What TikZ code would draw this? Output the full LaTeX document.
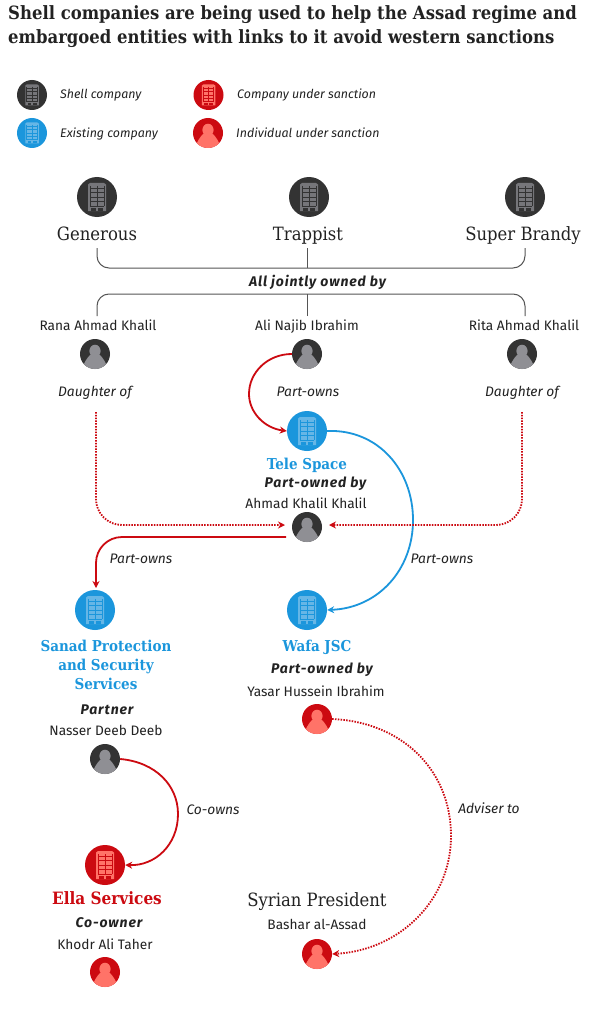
\documentclass[tikz,border=0pt]{standalone}
\usepackage{fontspec}
\setmainfont{Fira Sans}
\newfontfamily\slabfont{DejaVu Serif Condensed}
\usetikzlibrary{arrows.meta,calc}
\definecolor{ink}{HTML}{222222}
\definecolor{coal}{HTML}{333333}
\definecolor{coalhi}{HTML}{76767A}
\definecolor{personhi}{HTML}{8F8F94}
\definecolor{gblue}{HTML}{1B96DC}
\definecolor{gbluehi}{HTML}{66B6E6}
\definecolor{gred}{HTML}{CC0A11}
\definecolor{gredhi}{HTML}{FF7368}
\definecolor{brack}{HTML}{555555}
\tikzset{
  coin/.style={circle,inner sep=0pt,minimum size=#1},
  lab/.style={font=\fontsize{13.7}{15}\selectfont,text=ink,inner sep=0pt,text height=10pt,text depth=0pt},
  ital/.style={font=\fontsize{13.8}{15}\selectfont\itshape,text=ink,inner sep=0pt,text height=10pt,text depth=0pt},
  legt/.style={font=\fontsize{12.4}{14}\selectfont\itshape,text=ink,inner sep=0pt,anchor=west,text height=10pt,text depth=0pt},
  boldit/.style={font=\fontsize{14}{15}\selectfont\bfseries\itshape\addfontfeature{LetterSpace=6.4},text=ink,inner sep=0pt},
  ttl/.style={font=\slabfont\bfseries\fontsize{18.3}{24}\selectfont,text=ink,inner sep=0pt,anchor=west},
  nameb/.style={font=\slabfont\fontsize{18.3}{19}\selectfont,text=ink,inner sep=0pt,align=center,text height=13pt,text depth=0pt},
  bname/.style={font=\slabfont\bfseries\fontsize{15}{19}\selectfont,inner sep=0pt,align=center},
  brk/.style={draw=brack,line width=1pt},
  link/.style={line width=1.8pt,-{Stealth[length=7pt,width=7pt]}},
  dots/.style={line width=1.8pt,dash pattern=on 1.5pt off 1.3pt,-{Stealth[length=7pt,width=7pt]}},
}
% building icon: name, x, y, radius, bg, highlight
\newcommand{\bldg}[6]{%
  \node[coin=#4*2pt,fill=#5] (#1) at (#2,#3) {};
  \begin{scope}[shift={(#2,#3)},x=#4/20*1pt,y=-#4/20*1pt]
    \fill[#6] (-9,14)--(-9,-12.5)--(-7,-14)--(7,-14)--(9,-12.5)--(9,14)--cycle;
    \foreach \yy in {-9,-4.5,0,4.5,9}{\draw[draw=#5,line width=0.9pt] (-7,\yy)--(7,\yy);}
    \draw[draw=#5,line width=0.9pt] (0,-11)--(0,9);
    \draw[draw=#5,line width=0.9pt] (-7,-11)--(-7,9) (7,-11)--(7,9);
    \fill[#5] (-6,14)--(-6,10.5)--(-1,10.5)--(-1,14)--cycle;
    \fill[#5] (1,14)--(1,10.5)--(6,10.5)--(6,14)--cycle;
  \end{scope}}
% person icon: name, x, y, radius, bg, highlight
\newcommand{\prsn}[6]{%
  \node[coin=#4*2pt,fill=#5,path picture={
    \fill[#6] ($(path picture bounding box.center)+(0,3pt)$) ellipse [x radius=5.6pt,y radius=6.3pt];
    \fill[#6] ($(path picture bounding box.center)+(-13pt,-16pt)$) .. controls +(1pt,6pt) and +(-3pt,-3pt) .. ($(path picture bounding box.center)+(-5pt,-1pt)$) -- ($(path picture bounding box.center)+(5pt,-1pt)$) .. controls +(3pt,-3pt) and +(-1pt,6pt) .. ($(path picture bounding box.center)+(13pt,-16pt)$) -- cycle;
  }] (#1) at (#2,#3) {};}
\begin{document}
\begin{tikzpicture}[x=1pt,y=-1pt]
\useasboundingbox (0,0) rectangle (595,1011);
\fill[white] (0,0) rectangle (595,1011);
% title
\node[ttl] (t1) at (8,15) {Shell companies are being used to help the Assad regime and};
\node[ttl] (t2) at (8,39) {embargoed entities with links to it avoid western sanctions};
% legend
\bldg{l1}{32}{95}{15}{coal}{coalhi}
\bldg{l2}{32}{133}{15}{gblue}{gbluehi}
\bldg{l3}{208.5}{95}{15}{gred}{gredhi}
\prsn{l4}{208}{133}{15}{gred}{gredhi}
\node[legt] (lt1) at (60,94) {Shell company};
\node[legt] (lt2) at (60,132.7) {Existing company};
\node[legt] (lt3) at (237,94) {Company under sanction};
\node[legt] (lt4) at (236,132.7) {Individual under sanction};
% top companies
\bldg{gen}{97}{197}{20}{coal}{coalhi}
\bldg{tra}{309}{197}{20}{coal}{coalhi}
\bldg{sup}{525}{197}{20}{coal}{coalhi}
\node[nameb] (gent) at (97,233.5) {Generous};
\node[nameb] (trat) at (308,233.5) {Trappist};
\node[nameb] (supt) at (523,233.5) {Super Brandy};
% owners
\node[lab] (rana) at (98,325) {Rana Ahmad Khalil};
\node[lab] (ali) at (307,325) {Ali Najib Ibrahim};
\node[lab] (rita) at (524,325) {Rita Ahmad Khalil};
\prsn{pr}{95}{354}{15}{coal}{personhi}
\prsn{pa}{307}{354}{15}{coal}{personhi}
\prsn{pi}{522}{354}{15}{coal}{personhi}
% brackets
\coordinate (bl1) at (97,248); \coordinate (bm1) at (307,248); \coordinate (br1) at (525,248);
\coordinate (bl2) at (97,316); \coordinate (bm2) at (307,316); \coordinate (br2) at (525,316);
\coordinate (jm1) at (307,268); \coordinate (jm2) at (307,294);
\node[boldit] (joint) at (317.5,282) {All jointly owned by};
\draw[brk,rounded corners=12pt] (bl1) |- (jm1) -| (br1);
\draw[brk] (bm1) -- (jm1);
\draw[brk,rounded corners=12pt] (bl2) |- (jm2) -| (br2);
\draw[brk] (bm2) -- (jm2);
% middle
\node[ital] (d1) at (95,391.5) {Daughter of};
\node[ital] (d2) at (522,391.5) {Daughter of};
\node[ital] (po1) at (308,391.5) {Part-owns};
\bldg{tele}{307}{431}{20}{gblue}{gbluehi}
\node[bname,text=gblue] (telet) at (307,465) {Tele Space};
\node[boldit] (pob1) at (315.5,484) {Part-owned by};
\node[lab] (ahmadt) at (306,503) {Ahmad Khalil Khalil};
\prsn{ahmad}{307}{527}{15}{coal}{personhi}
\node[ital] (po2) at (141,558.5) {Part-owns};
\node[ital] (po3) at (442,558.5) {Part-owns};
\bldg{sanad}{95}{610}{20}{gblue}{gbluehi}
\bldg{wafa}{307}{610}{20}{gblue}{gbluehi}
\node[bname,text=gblue,anchor=north] (sanadt) at (106,639.5) {Sanad Protection\\and Security\\Services};
\node[bname,text=gblue] (wafat) at (317,647) {Wafa JSC};
\node[boldit] (pob2) at (322,670) {Part-owned by};
\node[lab] (yasart) at (316,691) {Yasar Hussein Ibrahim};
\prsn{yasar}{317}{719}{15}{gred}{gredhi}
\node[boldit] (partner) at (107,710) {Partner};
\node[lab] (nassert) at (106,730) {Nasser Deeb Deeb};
\prsn{nasser}{105}{759}{15}{coal}{personhi}
\node[ital] (coowns) at (213,809.5) {Co-owns};
\node[ital] (adv) at (489,808.5) {Adviser to};
\bldg{ella}{105}{865}{20}{gred}{gredhi}
\node[bname,text=gred,font=\slabfont\bfseries\fontsize{17}{19}\selectfont] (ellat) at (107,898) {Ella Services};
\node[boldit] (coowner) at (109,923) {Co-owner};
\node[lab] (khodrt) at (105,944) {Khodr Ali Taher};
\prsn{khodr}{105}{972}{15}{gred}{gredhi}
\node[nameb] (syr) at (317,899.5) {Syrian President};
\node[lab] (bashart) at (317,924) {Bashar al-Assad};
\prsn{bashar}{317}{954}{15}{gred}{gredhi}
% connectors
\draw[link,gred] (pa.west) .. controls (268,354) and (249,372) .. (249,394) .. controls (249,412) and (264,428) .. (tele.west);
\draw[link,gblue] (tele.east) .. controls (378,429) and (413,470) .. (413,520) .. controls (413,570) and (378,608) .. (wafa.east);
\coordinate (dl) at (96,412); \coordinate (dr) at (522,412);
\coordinate (ahl) at (285,525); \coordinate (ahr) at (329,525);
\draw[dots,gred,rounded corners=26pt] (dl) |- (ahl);
\draw[dots,gred,rounded corners=26pt] (dr) |- (ahr);
\coordinate (aho) at (286,537);
\coordinate (sat) at (96,588);
\draw[link,gred,rounded corners=26pt] (aho) -| (sat);
\draw[dots,gred] (yasar.east) .. controls (402,722) and (451,770) .. (451,836) .. controls (451,900) and (400,950) .. (bashar.east);
\draw[link,gred] (nasser.east) .. controls (155,762) and (178,785) .. (178,814) .. controls (178,845) and (155,866) .. (ella.east);
\end{tikzpicture}
\end{document}
